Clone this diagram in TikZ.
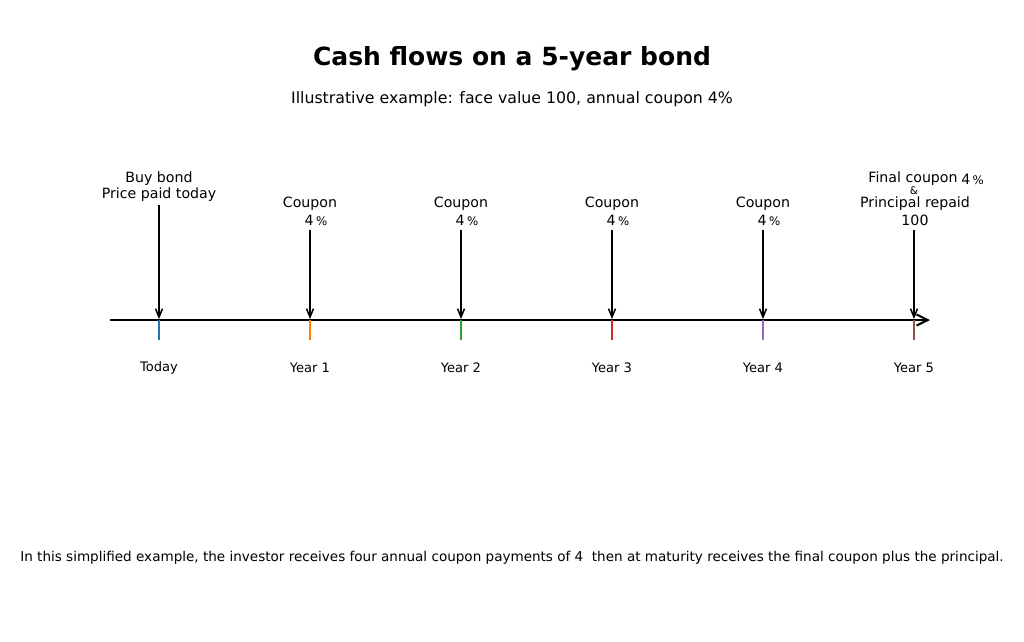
\documentclass[tikz,border=0pt]{standalone}
\usepackage{fontspec}
\setmainfont{DejaVu Sans}
\usepackage{xcolor}
\usetikzlibrary{arrows.meta}
\definecolor{tabblue}{HTML}{1F77B4}
\definecolor{taborange}{HTML}{FF7F0E}
\definecolor{tabgreen}{HTML}{2CA02C}
\definecolor{tabred}{HTML}{D62728}
\definecolor{tabpurple}{HTML}{9467BD}
\definecolor{tabbrown}{HTML}{8C564B}
\tikzset{x=0.72pt, y=-0.72pt,
flow/.style={ % Sets the properties for each cash flow arrow
draw, line width=1.1pt,
-{Straight Barb[length=6pt,width=5pt]}},
axis/.style={draw, line width=1.5pt,
-{Straight Barb[length=8pt,width=8pt]}},
tick/.style={line width=1.7pt}, % coloured year ticks
lbl/.style={font=\fontsize{10.2}{12}\selectfont, inner sep=0pt, align=center},
yr/.style={font=\fontsize{9.4}{11}\selectfont, inner sep=0pt}}

\begin{document}
\begin{tikzpicture}
\useasboundingbox (0,0) rectangle (1024,641);
% titles
\node[font=\fontsize{18}{21}\selectfont\bfseries, inner sep=0pt] (title) at (512,59) {Cash flows on a 5-year bond};
\node[font=\fontsize{11.35}{13}\selectfont, inner sep=0pt] (sub) at (512,99) {Illustrative example: face value 100, annual coupon 4\%};
% time axis
\coordinate (axL) at (110,320);
\coordinate (axR) at (930,320);
\draw[axis] (axL) -- (axR);
\draw[tick, tabblue] (159,320) -- (159,340);
\draw[tick, taborange] (310,320) -- (310,340);
\draw[tick, tabgreen] (461,320) -- (461,340);
\draw[tick, tabred] (612,320) -- (612,340);
\draw[tick, tabpurple] (763,320) -- (763,340);
\draw[tick, tabbrown] (914,320) -- (914,340);
\node[yr] (y0) at (159,368) {Today};
\node[yr] (y1) at (310,368) {Year 1};
\node[yr] (y2) at (461,368) {Year 2};
\node[yr] (y3) at (612,368) {Year 3};
\node[yr] (y4) at (763,368) {Year 4};
\node[yr] (y5) at (914,368) {Year 5};
% labels above the axis
\node[lbl] (b0) at (159,179) {Buy bond};
\node[lbl] (b0b) at (159,195) {Price paid today};
\node[lbl] (c1) at (310,204) {Coupon};
\node[lbl] (c2) at (461,204) {Coupon};
\node[lbl] (c3) at (612,204) {Coupon};
\node[lbl] (c4) at (763,204) {Coupon};
\node[lbl] (p1) at (316,220) {4\,{\fontsize{8.5}{9}\selectfont\%}};
\node[lbl] (p2) at (467,220) {4\,{\fontsize{8.5}{9}\selectfont\%}};
\node[lbl] (p3) at (618,220) {4\,{\fontsize{8.5}{9}\selectfont\%}};
\node[lbl] (p4) at (769,220) {4\,{\fontsize{8.5}{9}\selectfont\%}};
\node[lbl] (f5) at (913,179) {Final coupon};
\node[lbl, anchor=west] (f5p) at (961,179) {4\,{\fontsize{8.5}{9}\selectfont\%}};
\node[lbl, font=\fontsize{7.5}{8}\selectfont] (amp) at (914,191) {\&};
\node[lbl] (r5) at (915,204) {Principal repaid};
\node[lbl] (h5) at (915,220) {100};
% cash flow arrows
\coordinate (s0) at (159,205); \coordinate (e0) at (159,319);
\coordinate (s1) at (310,230); \coordinate (e1) at (310,319);
\coordinate (s2) at (461,230); \coordinate (e2) at (461,319);
\coordinate (s3) at (612,230); \coordinate (e3) at (612,319);
\coordinate (s4) at (763,230); \coordinate (e4) at (763,319);
\coordinate (s5) at (914,230); \coordinate (e5) at (914,319);
\draw[flow] (s0) -- (e0);
\draw[flow] (s1) -- (e1);
\draw[flow] (s2) -- (e2);
\draw[flow] (s3) -- (e3);
\draw[flow] (s4) -- (e4);
\draw[flow] (s5) -- (e5);
% footnote
\node[font=\fontsize{9.75}{11}\selectfont, inner sep=0pt] (note) at (512,558) {In this simplified example, the investor receives four annual coupon payments of 4~ then at maturity receives the final coupon plus the principal.};
\end{tikzpicture}
\end{document}
